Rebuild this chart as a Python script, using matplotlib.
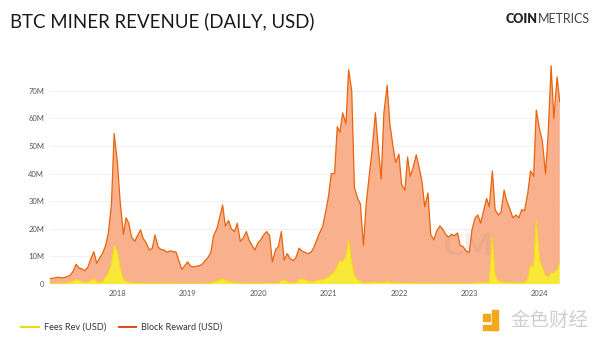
import matplotlib
matplotlib.use("Agg")
import matplotlib.pyplot as plt
from matplotlib.lines import Line2D
from matplotlib.patches import Rectangle
import numpy as np
import pandas as pd

plt.rcParams['font.family'] = ['Lato', 'DejaVu Sans']

# semi-monthly samples, 2017-01-15 .. 2024-04-15, values in USD millions
start = '2017-01-15'
fees = [
    0.2, 0.2, 0.2, 0.3, 0.3, 0.4, 0.4, 0.6, 1.0, 1.6, 1.2, 0.8, 0.6, 0.6, 1.2, 1.8, 0.8, 0.7, 0.8, 2.5, 4.0, 7.0, 14.0,
    12.0, 6.0, 1.5, 1.0, 0.6, 0.4, 0.3, 0.3, 0.4, 0.3, 0.3, 0.2, 0.2, 0.2, 0.2, 0.2, 0.2, 0.2, 0.2, 0.2, 0.2, 0.2, 0.1, 0.1,
    0.1, 0.1, 0.1, 0.1, 0.1, 0.2, 0.2, 0.3, 0.4, 0.8, 1.0, 1.5, 2.0, 1.2, 1.0, 0.6, 0.4, 0.4, 0.3, 0.3, 0.3, 0.3, 0.2, 0.2,
    0.2, 0.3, 0.3, 0.4, 0.4, 0.3, 0.3, 0.3, 1.2, 1.5, 0.8, 0.5, 0.4, 0.5, 1.5, 1.8, 1.5, 1.0, 0.8, 0.8, 1.2, 1.5, 1.5, 2.0,
    2.5, 3.5, 4.5, 6.5, 8.5, 8.0, 10.0, 16.0, 8.0, 3.0, 1.5, 1.0, 0.4, 0.4, 0.5, 0.6, 0.8, 0.6, 0.5, 0.6, 0.8, 0.6, 0.5, 0.4,
    0.4, 0.4, 0.3, 0.4, 0.3, 0.3, 0.4, 0.3, 0.3, 0.4, 0.3, 0.3, 0.2, 0.2, 0.2, 0.2, 0.2, 0.2, 0.2, 0.2, 0.3, 0.3, 0.2, 0.2,
    0.2, 0.3, 0.4, 0.6, 0.4, 0.5, 0.6, 0.6, 17.0, 3.0, 1.0, 0.8, 0.6, 0.5, 0.5, 0.4, 0.4, 0.4, 0.5, 0.5, 2.0, 7.0, 6.0, 23.0,
    9.0, 6.0, 3.0, 2.5, 4.0, 4.0, 5.0, 8.0,
]
block_reward = [
    1.8, 1.9, 2.1, 2.2, 1.9, 2.0, 2.3, 2.6, 3.5, 5.6, 4.6, 4.7, 4.2, 5.6, 7.8, 9.9, 6.7, 8.8, 10.2, 11.5, 14.5, 22.0, 40.5,
    32.0, 24.0, 16.5, 23.0, 21.4, 16.6, 15.2, 17.2, 19.2, 16.2, 14.4, 12.1, 12.8, 17.6, 13.1, 12.3, 12.1, 11.3, 11.8, 11.6, 11.4, 8.5, 5.2, 6.4,
    7.9, 6.4, 6.1, 6.4, 6.5, 6.8, 8.3, 9.2, 11.1, 16.7, 19.0, 22.5, 26.6, 19.8, 22.0, 19.4, 18.6, 21.6, 15.2, 16.2, 18.7, 15.7, 13.8, 12.1,
    14.8, 15.7, 17.7, 18.6, 17.1, 7.7, 12.2, 13.2, 17.8, 7.2, 10.2, 8.7, 8.1, 9.0, 11.5, 10.2, 10.0, 10.0, 10.7, 12.2, 14.8, 17.0, 19.3, 23.5,
    29.5, 36.5, 35.5, 50.5, 46.5, 54.0, 48.0, 61.6, 62.0, 32.0, 29.5, 28.0, 13.6, 28.6, 39.5, 48.0, 61.2, 49.4, 37.5, 61.4, 71.2, 57.4, 49.5, 43.6,
    46.6, 35.6, 33.7, 45.6, 38.7, 41.7, 46.4, 42.2, 36.7, 27.6, 32.7, 17.7, 15.8, 18.8, 20.8, 19.8, 17.8, 16.8, 17.8, 17.3, 18.2, 13.7, 13.3, 11.8,
    11.3, 19.3, 23.6, 24.4, 21.6, 25.5, 30.4, 27.4, 24.0, 24.0, 24.0, 25.2, 33.4, 29.5, 26.5, 23.6, 24.6, 23.6, 26.5, 26.0, 31.0, 34.0, 33.0, 40.0,
    47.0, 46.0, 37.0, 52.5, 75.0, 56.0, 70.0, 58.0,
]
year_ticks = ['2018', '2019', '2020', '2021', '2022', '2023', '2024']
y_ticks = [0, 10, 20, 30, 40, 50, 60, 70]
y_labels = ['0', '10M', '20M', '30M', '40M', '50M', '60M', '70M']

dates = pd.date_range(start, periods=len(fees), freq='SMS')
fees = np.array(fees) * 1e6
block_reward = np.array(block_reward) * 1e6

fig = plt.figure(figsize=(6, 3.41), dpi=100)
ax = fig.add_axes([0.083, 0.167, 0.85, 0.648])

ax.stackplot(dates, fees, block_reward, colors=['#f8e83a', '#f9b08c'], linewidth=0)
ax.plot(dates, fees, color='#f4dc12', lw=0.8)
ax.plot(dates, fees + block_reward, color='#e8640e', lw=0.9)

ax.set_xlim(dates[0], dates[-1])
ax.set_ylim(0, 80e6)
ax.set_yticks([v * 1e6 for v in y_ticks])
ax.set_yticklabels(y_labels)
ax.set_xticks(pd.to_datetime([y + '-01-01' for y in year_ticks]))
ax.set_xticklabels(year_ticks)
ax.tick_params(length=0, labelsize=5.5, colors='#555566', pad=4)
ax.grid(axis='y', color='#eeeeee', lw=0.6)
ax.set_axisbelow(True)
for s in ax.spines.values():
    s.set_visible(False)

ax.text(0.82, 0.17, 'CM', transform=ax.transAxes, fontsize=22, color='#888888',
        alpha=0.12, ha='center', va='center', fontweight='bold')

fig.text(0.017, 0.937, 'BTC MINER REVENUE (DAILY, USD)', fontsize=13.4, color='#1a1a1a', va='center')
fig.text(0.843, 0.944, 'COIN', fontsize=9, fontweight='heavy', color='#222222', va='center')
fig.text(0.896, 0.944, 'METRICS', fontsize=9, color='#444444', va='center')

handles = [Line2D([], [], color='#f2dc10', lw=1.5), Line2D([], [], color='#d4561a', lw=1.5)]
fig.legend(handles, ['Fees Rev (USD)', 'Block Reward (USD)'], loc='center left',
           bbox_to_anchor=(0.022, 0.04), ncol=2, frameon=False, fontsize=6.6,
           handlelength=1.9, columnspacing=1.3, handletextpad=0.6, labelcolor='#333344')

# jinse logo mark
logo = '#f4a81c'
fig.patches.append(Rectangle((0.805, 0.032), 0.025, 0.016, transform=fig.transFigure, color=logo))
fig.patches.append(Rectangle((0.82, 0.032), 0.01, 0.059, transform=fig.transFigure, color=logo))
fig.patches.append(Rectangle((0.805, 0.058), 0.011, 0.02, transform=fig.transFigure, color=logo))
fig.text(0.85, 0.06, '金色财经', fontsize=14, color='#cfcfcf', va='center',
         family=['Noto Sans CJK SC', 'DejaVu Sans'])

fig.savefig('out.png', dpi=100, facecolor='white')
